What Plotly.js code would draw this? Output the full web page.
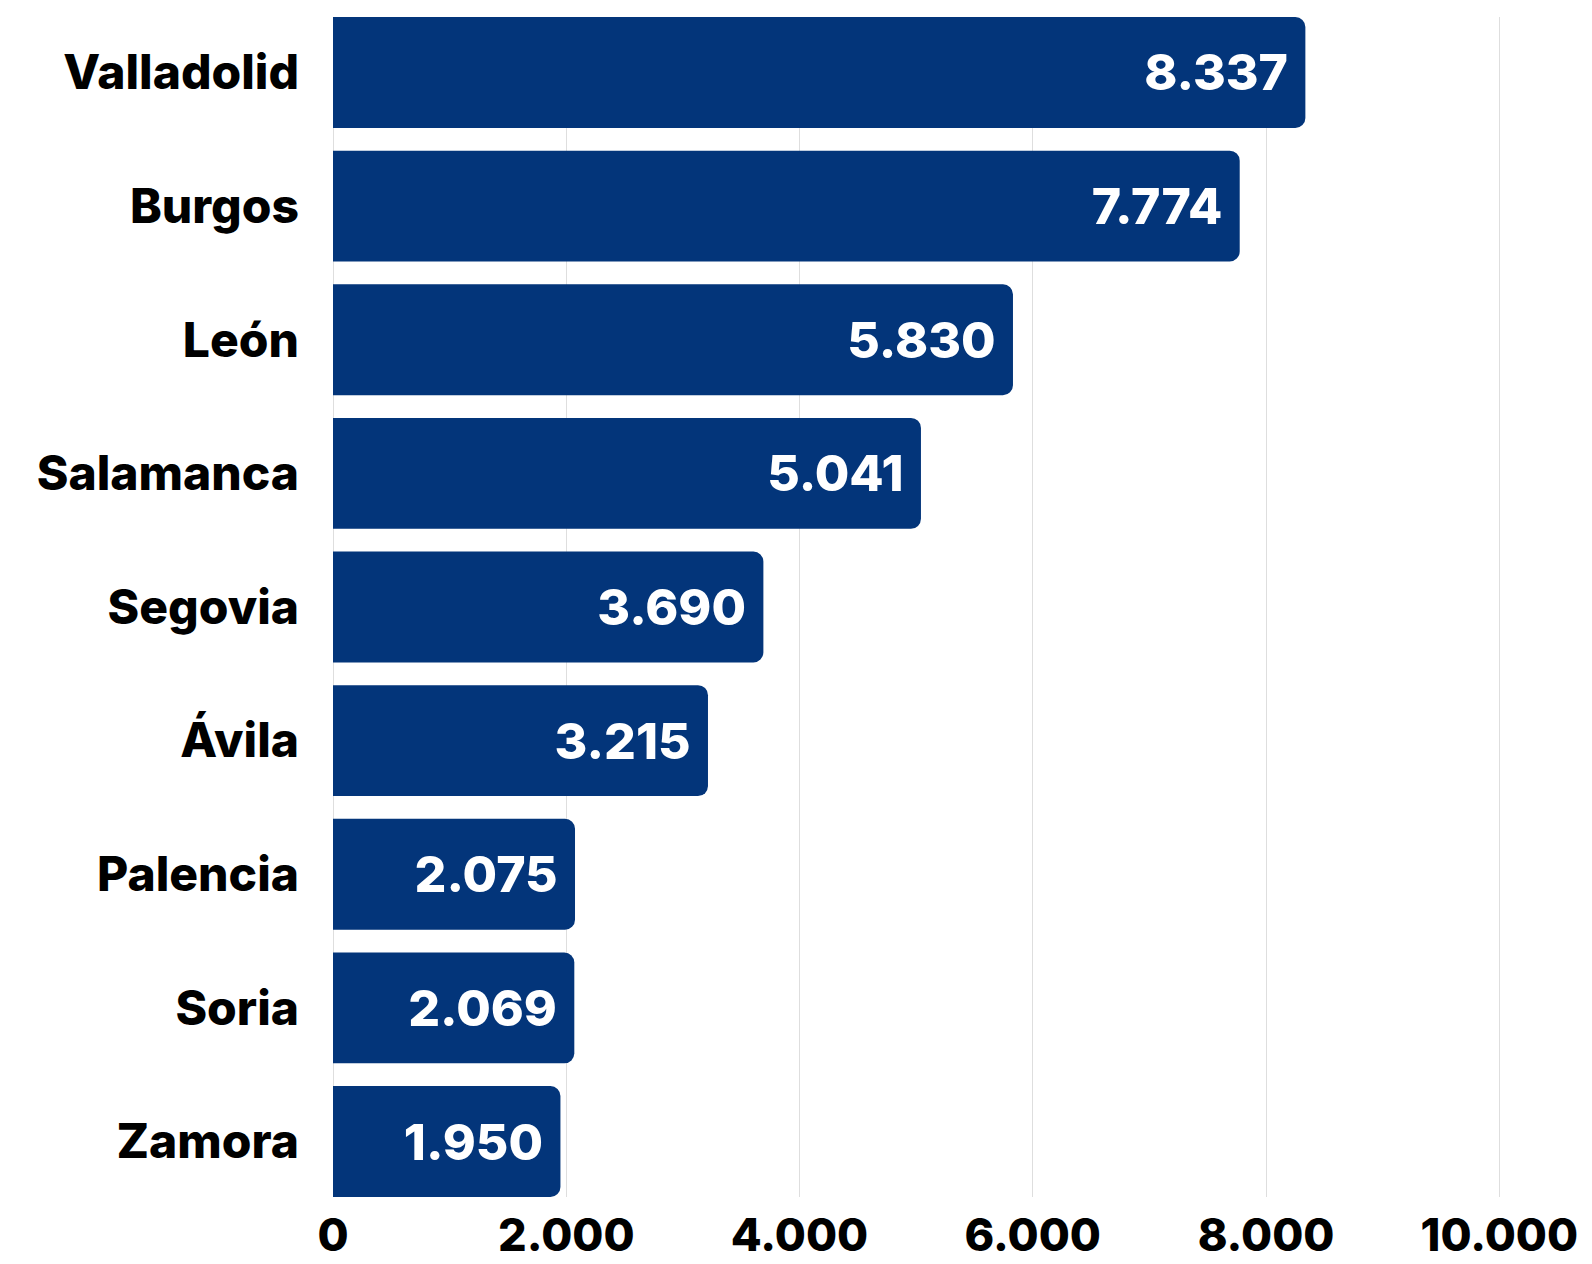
<!DOCTYPE html>
<html>
<head>
<meta charset="utf-8">
<script src="https://cdn.plot.ly/plotly-3.0.1.min.js"></script>
<style>
  html, body { margin: 0; padding: 0; background: #ffffff; }
  #chart { width: 1592px; height: 1264px; }
</style>
</head>
<body>
<div id="chart"></div>
<script>
const provinces = ["Valladolid", "Burgos", "León", "Salamanca", "Segovia", "Ávila", "Palencia", "Soria", "Zamora"];
const values = [8337, 7774, 5830, 5041, 3690, 3215, 2075, 2069, 1950];
const xTickValues = [0, 2000, 4000, 6000, 8000, 10000];

const barColor = "#03357a";
const fontFamily = "Inter, Lato, 'Noto Sans', sans-serif";

const trace = {
  type: "bar",
  orientation: "h",
  x: values,
  y: provinces,
  marker: { color: barColor, cornerradius: 10, line: { width: 0 } },
  width: 0.83,
  texttemplate: "%{x:,.0f}\u2009",
  textposition: "inside",
  insidetextanchor: "end",
  constraintext: "none",
  textfont: { family: fontFamily, size: 50, color: "#ffffff", weight: 800 },
  hoverinfo: "none",
  cliponaxis: false
};

const layout = {
  width: 1592,
  height: 1264,
  margin: { l: 333, r: 88, t: 17, b: 67, pad: 0 },
  paper_bgcolor: "#ffffff",
  plot_bgcolor: "#ffffff",
  separators: ",.",
  showlegend: false,
  bargap: 0.17,
  xaxis: {
    range: [0, 10040],
    tickvals: xTickValues,
    tickformat: ",d",
    separatethousands: true,
    showgrid: true,
    gridcolor: "#dedede",
    gridwidth: 1,
    zeroline: true,
    zerolinecolor: "#dedede",
    zerolinewidth: 1,
    showline: false,
    ticks: "",
    ticklabelstandoff: 8,
    tickfont: { family: fontFamily, size: 45, color: "#000000", weight: 800 },
    fixedrange: true
  },
  yaxis: {
    type: "category",
    categoryorder: "array",
    categoryarray: provinces,
    range: [8.415, -0.415],
    showgrid: false,
    zeroline: false,
    showline: false,
    ticks: "",
    ticklabelstandoff: 33,
    tickfont: { family: fontFamily, size: 48, color: "#000000", weight: 800 },
    fixedrange: true
  }
};

Plotly.newPlot("chart", [trace], layout, { displayModeBar: false, staticPlot: true });
</script>
</body>
</html>
